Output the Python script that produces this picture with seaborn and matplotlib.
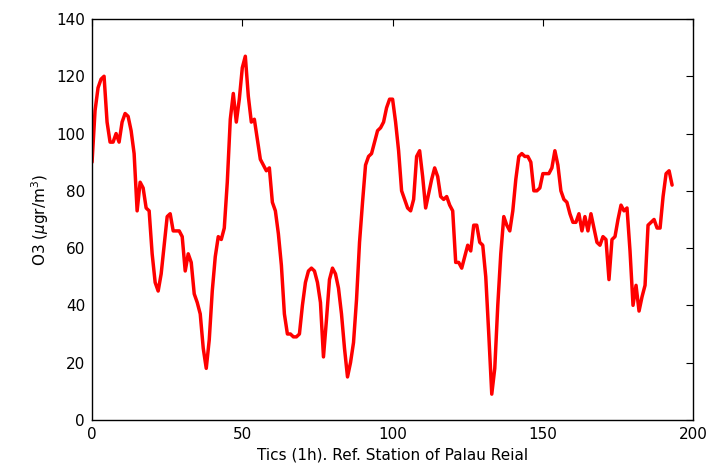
import numpy as np
import pandas as pd
import matplotlib
matplotlib.use("Agg")
import matplotlib.pyplot as plt
import seaborn as sns

# hourly O3 readings, Palau Reial reference station
o3 = [90, 108, 116, 119, 120, 104, 97, 97, 100, 97,
      104, 107, 106, 101, 93, 73, 83, 81, 74, 73,
      58, 48, 45, 51, 61, 71, 72, 66, 66, 66,
      64, 52, 58, 55, 44, 41, 37, 25, 18, 28,
      45, 57, 64, 63, 67, 83, 105, 114, 104, 112,
      123, 127, 113, 104, 105, 98, 91, 89, 87, 88,
      76, 73, 65, 54, 37, 30, 30, 29, 29, 30,
      40, 48, 52, 53, 52, 48, 41, 22, 35, 49,
      53, 51, 46, 37, 25, 15, 20, 27, 42, 62,
      76, 89, 92, 93, 97, 101, 102, 104, 109, 112,
      112, 104, 94, 80, 77, 74, 73, 77, 92, 94,
      85, 74, 79, 84, 88, 85, 78, 77, 78, 75,
      73, 55, 55, 53, 57, 61, 59, 68, 68, 62,
      61, 50, 30, 9, 18, 40, 58, 71, 68, 66,
      73, 84, 92, 93, 92, 92, 90, 80, 80, 81,
      86, 86, 86, 88, 94, 89, 80, 77, 76, 72,
      69, 69, 72, 66, 71, 66, 72, 67, 62, 61,
      64, 63, 49, 63, 64, 70, 75, 73, 74, 59,
      40, 47, 38, 43, 47, 68, 69, 70, 67, 67,
      78, 86, 87, 82]
tics = list(range(len(o3)))

df = pd.DataFrame({"tic": tics, "o3": o3})

sns.set_style("white")
plt.rcParams["font.family"] = ["DejaVu Sans"]
plt.rcParams["xtick.direction"] = "in"
plt.rcParams["ytick.direction"] = "in"
plt.rcParams["text.color"] = "black"
plt.rcParams["axes.labelcolor"] = "black"
plt.rcParams["xtick.color"] = "black"
plt.rcParams["ytick.color"] = "black"

fig = plt.figure(figsize=(7.08, 4.75), dpi=100)
ax = fig.add_axes([0.13, 0.116, 0.849, 0.844])
sns.lineplot(data=df, x="tic", y="o3", color="red", linewidth=2.5, ax=ax)

ax.set_xlim(0, 200)
ax.set_ylim(0, 140)
ax.set_xticks([0, 50, 100, 150, 200])
ax.set_yticks(range(0, 141, 20))
ax.tick_params(which="both", top=True, right=True, length=5, width=0.8,
               labelsize=11, colors="black", pad=5)
for s in ax.spines.values():
    s.set_color("black")
    s.set_linewidth(1.0)
ax.set_xlabel("Tics (1h). Ref. Station of Palau Reial", fontsize=11)
ax.set_ylabel(r"O3 ($\mu$gr/m$^3$)", fontsize=11)

fig.savefig("out.png", dpi=100)
